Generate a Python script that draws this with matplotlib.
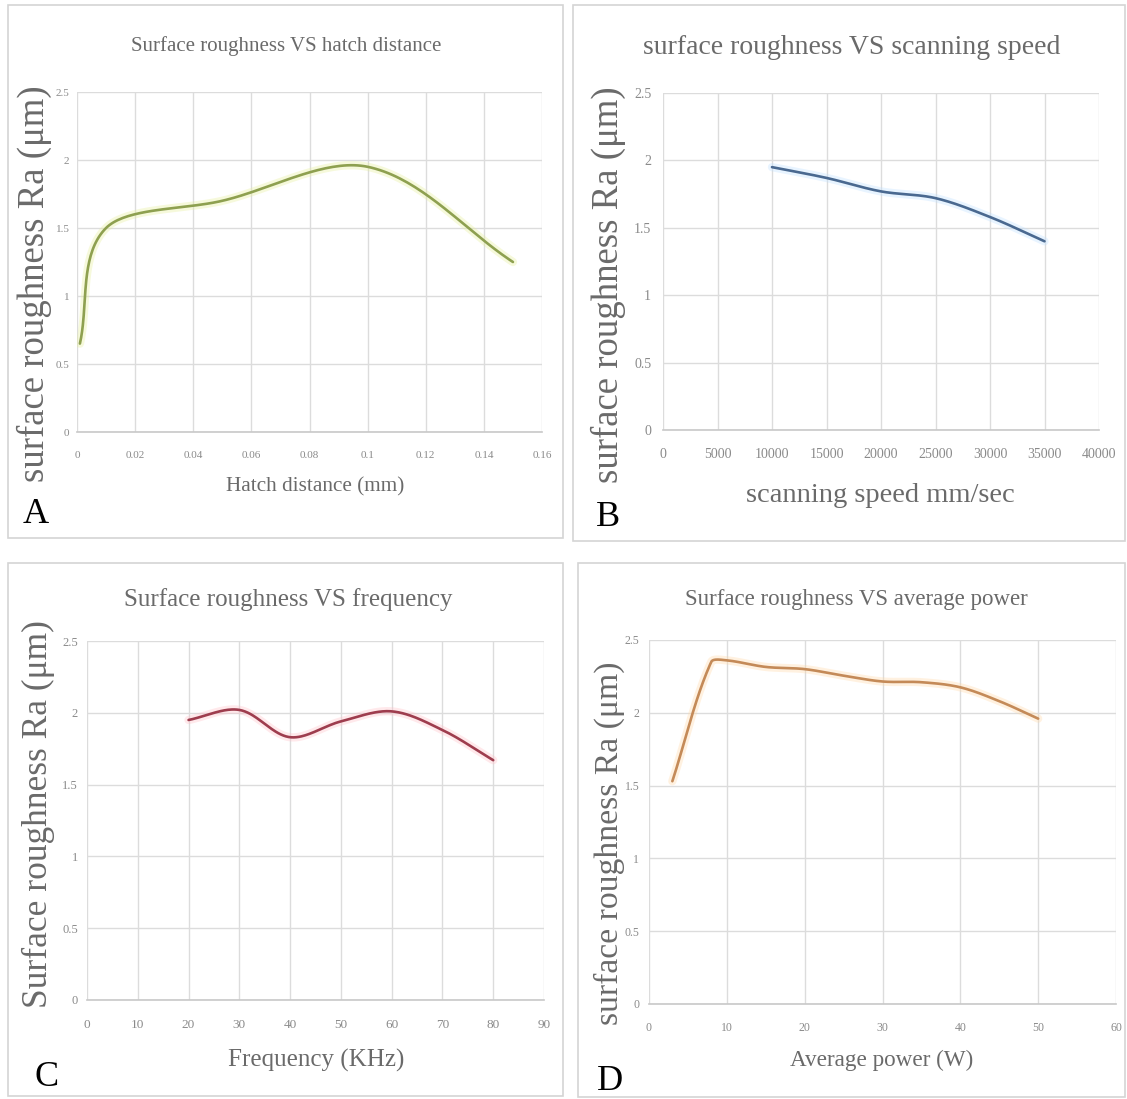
import numpy as np
import matplotlib
matplotlib.use("Agg")
import matplotlib.pyplot as plt
from matplotlib.patches import Rectangle

# ---------------- data ----------------
hatch_x = [0.001, 0.01, 0.05, 0.1, 0.15]
hatch_y = [0.65, 1.5, 1.7, 1.95, 1.25]

speed_x = [10000, 15000, 20000, 25000, 30000, 35000]
speed_y = [1.95, 1.87, 1.77, 1.72, 1.58, 1.40]

freq_x = [20, 30, 40, 50, 60, 70, 80]
freq_y = [1.95, 2.02, 1.83, 1.94, 2.01, 1.88, 1.67]

power_x = [3, 8, 10, 15, 20, 25, 30, 35, 40, 45, 50]
power_y = [1.53, 2.35, 2.36, 2.315, 2.30, 2.255, 2.215, 2.21, 2.175, 2.08, 1.96]

hatch_ticks = [0, 0.02, 0.04, 0.06, 0.08, 0.1, 0.12, 0.14, 0.16]
hatch_ticklabels = ["0", "0.02", "0.04", "0.06", "0.08", "0.1", "0.12", "0.14", "0.16"]
speed_ticks = [0, 5000, 10000, 15000, 20000, 25000, 30000, 35000, 40000]
freq_ticks = [0, 10, 20, 30, 40, 50, 60, 70, 80, 90]
power_ticks = [0, 10, 20, 30, 40, 50, 60]
y_ticks = [0, 0.5, 1, 1.5, 2, 2.5]
y_ticklabels = ["0", "0.5", "1", "1.5", "2", "2.5"]

W, H = 1127, 1099
fig = plt.figure(figsize=(W / 100, H / 100), dpi=100)
fig.patch.set_facecolor("white")

SERIF = ["Liberation Serif", "DejaVu Serif"]
TXT = "#6a6a6a"


def fx(px):
    return px / W


def fy(py):
    return 1 - py / H


def smooth(xs, ys, xr, yr, n=40):
    """Smoothed line (Catmull-Rom Bezier, handles scaled by neighbouring chord lengths)."""
    P = np.column_stack([xs, ys]).astype(float)
    scale = np.array([1.0 / xr, 1.0 / yr])
    ext = np.vstack([2 * P[0] - P[1], P, 2 * P[-1] - P[-2]])
    d = np.linalg.norm(np.diff(ext, axis=0) * scale, axis=1)  # chord lengths
    out = []
    t = np.linspace(0, 1, n)[:, None]
    for i in range(1, len(ext) - 2):
        p0, p1, p2, p3 = ext[i - 1], ext[i], ext[i + 1], ext[i + 2]
        d01, d12, d23 = d[i - 1], d[i], d[i + 1]
        f1 = 2 * d12 / (d01 + d12)
        f2 = 2 * d12 / (d12 + d23)
        c1 = p1 + (p2 - p0) / 6 * f1
        c2 = p2 - (p3 - p1) / 6 * f2
        seg = ((1 - t) ** 3) * p1 + 3 * ((1 - t) ** 2) * t * c1 + 3 * (1 - t) * t ** 2 * c2 + t ** 3 * p2
        out.append(seg if i == 1 else seg[1:])
    out = np.vstack(out)
    return out[:, 0], out[:, 1]


# panel frames
for (x0, y0, x1, y1) in [(8, 5, 563, 538), (573, 5, 1125, 541), (8, 563, 563, 1096), (578, 563, 1125, 1097)]:
    fig.add_artist(Rectangle((fx(x0), fy(y1)), fx(x1) - fx(x0), fy(y0) - fy(y1),
                             transform=fig.transFigure, fill=False, ec="#d4d4d4", lw=1.2))


def make_axes(box, xs, ys, color, halo, xlim, xticks, xticklabels, xpad, ypad, xsize, ysize):
    l, r, t, b = box
    ax = fig.add_axes([fx(l), fy(b), fx(r) - fx(l), fy(t) - fy(b)])
    sx, sy = smooth(xs, ys, xlim[1] - xlim[0], 2.5)
    ax.plot(sx, sy, color=halo, lw=6, alpha=0.35, solid_capstyle="round", zorder=2)
    ax.plot(sx, sy, color=color, lw=1.9, solid_capstyle="round", zorder=3)
    ax.set_xlim(*xlim)
    ax.set_ylim(0, 2.5)
    ax.set_xticks(xticks)
    ax.set_xticklabels(xticklabels)
    ax.set_yticks(y_ticks)
    ax.set_yticklabels(y_ticklabels)
    ax.grid(True, color="#dcdcdc", lw=1.0)
    ax.set_axisbelow(True)
    for s in ["top", "right", "left"]:
        ax.spines[s].set_visible(False)
    ax.spines["bottom"].set_color("#c8c8c8")
    ax.spines["bottom"].set_linewidth(1.2)
    ax.tick_params(length=0, labelcolor="#8a8a8a")
    ax.tick_params(axis="x", pad=xpad, labelsize=xsize)
    ax.tick_params(axis="y", pad=ypad, labelsize=ysize)
    for lab in ax.get_xticklabels() + ax.get_yticklabels():
        lab.set_family(SERIF)
    return ax


make_axes((77, 542, 92, 432), hatch_x, hatch_y, "#8ea050", "#e6ef9a", (0, 0.16),
          hatch_ticks, hatch_ticklabels, 14, 5.5, 8, 8)
make_axes((663, 1099, 93, 430), speed_x, speed_y, "#4a6990", "#bfe0ff", (0, 40000),
          speed_ticks, [str(v) for v in speed_ticks], 13, 8.5, 10, 10)
make_axes((87, 544, 641, 1000), freq_x, freq_y, "#9e3d4e", "#ffc0c8", (0, 90),
          freq_ticks, [str(v) for v in freq_ticks], 14, 6.5, 9.5, 9)
make_axes((649, 1116, 640, 1004), power_x, power_y, "#c48a58", "#ffd9a8", (0, 60),
          power_ticks, [str(v) for v in power_ticks], 13, 7, 8.5, 8.5)

# titles
fig.text(fx(286), fy(46), "Surface roughness VS hatch distance", family=SERIF, fontsize=15,
         color=TXT, ha="center", va="center")
fig.text(fx(852), fy(47), "surface roughness VS scanning speed", family=SERIF, fontsize=20,
         color=TXT, ha="center", va="center")
fig.text(fx(288), fy(600), "Surface roughness VS frequency", family=SERIF, fontsize=18,
         color=TXT, ha="center", va="center")
fig.text(fx(856), fy(600), "Surface roughness VS average power", family=SERIF, fontsize=16.5,
         color=TXT, ha="center", va="center")

# x labels
fig.text(fx(315), fy(487), "Hatch distance (mm)", family=SERIF, fontsize=15.3,
         color=TXT, ha="center", va="center")
fig.text(fx(880), fy(495), "scanning speed mm/sec", family=SERIF, fontsize=20.5,
         color=TXT, ha="center", va="center")
fig.text(fx(316), fy(1060), "Frequency (KHz)", family=SERIF, fontsize=18,
         color=TXT, ha="center", va="center")
fig.text(fx(882), fy(1060), "Average power (W)", family=SERIF, fontsize=16.7,
         color=TXT, ha="center", va="center")

# y labels
fig.text(fx(34), fy(284), "surface roughness Ra (μm)", family=SERIF, fontsize=26.5,
         color=TXT, ha="center", va="center", rotation=90)
fig.text(fx(608), fy(285), "surface roughness Ra (μm)", family=SERIF, fontsize=26.5,
         color=TXT, ha="center", va="center", rotation=90)
fig.text(fx(38), fy(814), "Surface roughness Ra (μm)", family=SERIF, fontsize=25.5,
         color=TXT, ha="center", va="center", rotation=90)
fig.text(fx(609), fy(843), "surface roughness Ra (μm)", family=SERIF, fontsize=24.3,
         color=TXT, ha="center", va="center", rotation=90)

# panel letters
for letter, (px, py) in zip("ABCD", [(36, 515), (608, 518), (47, 1078), (610, 1081)]):
    fig.text(fx(px), fy(py), letter, family=SERIF, fontsize=26, color="black",
             ha="center", va="center")

fig.savefig("out.png", dpi=100, facecolor="white")
